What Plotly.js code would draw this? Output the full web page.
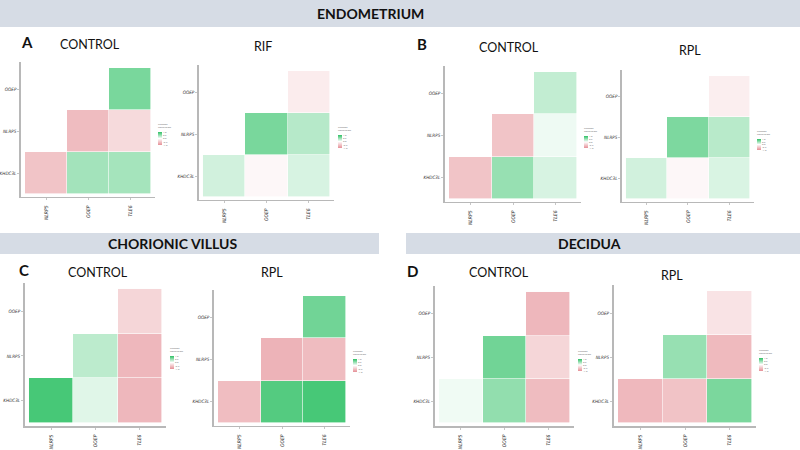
<!DOCTYPE html>
<html>
<head>
<meta charset="utf-8">
<script src="https://cdn.plot.ly/plotly-3.0.1.min.js"></script>
<style>html,body{margin:0;padding:0;background:#fff}#chart{width:800px;height:450px}</style>
</head>
<body>
<div id="chart"></div>
<script>
// ---- data ----
const genesX = ['NLRP5', 'OOEP', 'TLE6'];
const genesY = ['KHDC3L', 'NLRP5', 'OOEP'];
const corrTicks = [-1, -0.5, 0, 0.5, 1];
const corrTickText = ['-1.0', '-0.5', '0.0', '0.5', '1.0'];

// rows: KHDC3L, NLRP5, OOEP ; columns: NLRP5, OOEP, TLE6
const endoControlA = [[-0.53, 0.44, 0.43], [null, -0.60, -0.33], [null, null, 0.64]];
const endoRIF      = [[0.22, -0.07, 0.19], [null, 0.64, 0.35], [null, null, -0.17]];
const endoControlB = [[-0.53, 0.50, 0.19], [null, -0.53, 0.08], [null, null, 0.29]];
const endoRPL      = [[0.22, -0.07, 0.18], [null, 0.62, 0.34], [null, null, -0.15]];
const villusControl = [[0.88, 0.15, -0.64], [null, 0.32, -0.64], [null, null, -0.37]];
const villusRPL     = [[-0.59, 0.82, 0.88], [null, -0.68, -0.60], [null, null, 0.68]];
const deciduaControl = [[0.07, 0.52, -0.60], [null, 0.68, -0.37], [null, null, -0.64]];
const deciduaRPL     = [[-0.63, -0.54, 0.63], [null, 0.50, -0.62], [null, null, -0.25]];

const panelTitles = ['CONTROL', 'RIF', 'CONTROL', 'RPL', 'CONTROL', 'RPL', 'CONTROL', 'RPL'];
const panelLetters = ['A', 'B', 'C', 'D'];
const sectionNames = ['ENDOMETRIUM', 'CHORIONIC VILLUS', 'DECIDUA'];

// ---- layout geometry (pixels) ----
const W = 800, H = 450;
const fx = p => p / W;
const fy = p => 1 - p / H;

const panelData = [endoControlA, endoRIF, endoControlB, endoRPL,
                   villusControl, villusRPL, deciduaControl, deciduaRPL];
// cell boxes [left, right, top, bottom], colorbar [left, top, bottom], title [x, y]
const geom = [
  {cell: [25, 151, 68, 194],  cb: [158, 120, 145], title: [90, 45]},
  {cell: [203, 330, 71, 197], cb: [338, 123, 148], title: [263, 46]},
  {cell: [449, 577, 72, 199], cb: [584, 124, 148], title: [509, 47]},
  {cell: [626, 750, 76, 199], cb: [757, 127, 150], title: [690, 50]},
  {cell: [29, 162, 289, 423], cb: [170, 344, 369], title: [98, 272]},
  {cell: [218, 346, 296, 423], cb: [353, 347, 372], title: [272, 272]},
  {cell: [439, 570, 292, 423], cb: [578, 347, 371], title: [499, 272]},
  {cell: [618, 752, 291, 423], cb: [759, 346, 371], title: [672, 275]}
];
const letterPos = [[27, 42], [422, 44], [24, 270], [412, 271]];

const colorscale = [[0, '#e58f96'], [0.5, '#ffffff'], [1, '#2ec064']];
const axisColor = '#b8b8b8';
const tickFontX = {family: 'DejaVu Sans Condensed, Liberation Sans Narrow, Arial, sans-serif', size: 5, color: '#333', style: 'italic'};
const tickFontY = {family: 'DejaVu Sans Condensed, Liberation Sans Narrow, Arial, sans-serif', size: 4.6, color: '#333', style: 'italic'};

const traces = [];
const layout = {
  width: W, height: H,
  margin: {l: 0, r: 0, t: 0, b: 0},
  paper_bgcolor: '#fff', plot_bgcolor: '#fff',
  showlegend: false,
  shapes: [
    {type: 'rect', xref: 'paper', yref: 'paper', x0: 0, x1: 1, y0: fy(27), y1: fy(0), fillcolor: '#d6dce5', line: {width: 0}, layer: 'below'},
    {type: 'rect', xref: 'paper', yref: 'paper', x0: 0, x1: fx(379), y0: fy(254), y1: fy(233), fillcolor: '#d6dce5', line: {width: 0}, layer: 'below'},
    {type: 'rect', xref: 'paper', yref: 'paper', x0: fx(406), x1: 1, y0: fy(254), y1: fy(233), fillcolor: '#d6dce5', line: {width: 0}, layer: 'below'}
  ],
  annotations: []
};

const bandFont = {family: 'Lato, Open Sans, sans-serif', size: 14, color: '#111'};
const sectionPos = [[370, 13.5], [172, 243.5], [589, 243.5]];
sectionNames.forEach((s, i) => {
  layout.annotations.push({text: '<b>' + s + '</b>', x: fx(sectionPos[i][0]), y: fy(sectionPos[i][1]),
    xref: 'paper', yref: 'paper', showarrow: false, xanchor: 'center', yanchor: 'middle', font: bandFont});
});
panelLetters.forEach((s, i) => {
  layout.annotations.push({text: '<b>' + s + '</b>', x: fx(letterPos[i][0]), y: fy(letterPos[i][1]),
    xref: 'paper', yref: 'paper', showarrow: false, xanchor: 'center', yanchor: 'middle',
    font: {family: 'Lato, Open Sans, sans-serif', size: 15, color: '#111'}});
});

panelData.forEach((z, i) => {
  const n = i + 1;
  const sfx = n === 1 ? '' : String(n);
  const g = geom[i];
  const [cl, cr, ct, cbm] = g.cell;
  const cw = (cr - cl) / 3, ch = (cbm - ct) / 3;
  const xd = [fx(cl - 0.1 * cw), fx(cr + 0.1 * cw)];
  const yd = [fy(cbm + 0.07 * ch), fy(ct - 0.14 * ch)];
  traces.push({
    type: 'heatmap', x: genesX, y: genesY, z: z,
    xaxis: 'x' + sfx, yaxis: 'y' + sfx,
    zmin: -1, zmax: 1, colorscale: colorscale, xgap: 0.6, ygap: 0.6, hoverongaps: false,
    colorbar: {
      x: fx(g.cb[0]), xanchor: 'left', xref: 'paper',
      y: fy(g.cb[1]), yanchor: 'top', yref: 'paper',
      lenmode: 'pixels', len: g.cb[2] - g.cb[1],
      thicknessmode: 'pixels', thickness: 4,
      outlinewidth: 0, xpad: 0, ypad: 0,
      tickvals: corrTicks, ticktext: corrTickText, ticks: '',
      tickfont: {size: 2.5, color: '#666'},
      title: {text: 'Pearson<br>Correlation', side: 'top', font: {size: 2.5, color: '#666'}}
    }
  });
  const common = {
    showline: true, linecolor: axisColor, linewidth: 1.5, mirror: false,
    showgrid: false, zeroline: false, ticks: 'outside', ticklen: 2, tickcolor: axisColor, tickwidth: 0.8,
    fixedrange: true, type: 'category'
  };
  layout['xaxis' + sfx] = Object.assign({}, common, {
    domain: xd, anchor: 'y' + sfx, range: [-0.6, 2.6], tickangle: -90, tickfont: tickFontX,
    categoryorder: 'array', categoryarray: genesX, ticklabelstandoff: 3
  });
  layout['yaxis' + sfx] = Object.assign({}, common, {
    domain: yd, anchor: 'x' + sfx, range: [-0.57, 2.64], tickfont: tickFontY,
    categoryorder: 'array', categoryarray: genesY, ticklabelstandoff: 0
  });
  layout.annotations.push({text: panelTitles[i], x: fx(g.title[0]), y: fy(g.title[1]),
    xref: 'paper', yref: 'paper', showarrow: false, xanchor: 'center', yanchor: 'middle',
    font: {family: 'Lato, Open Sans, sans-serif', size: 12.5, color: '#111'}});
});

Plotly.newPlot('chart', traces, layout, {displayModeBar: false, staticPlot: true});
</script>
</body>
</html>
